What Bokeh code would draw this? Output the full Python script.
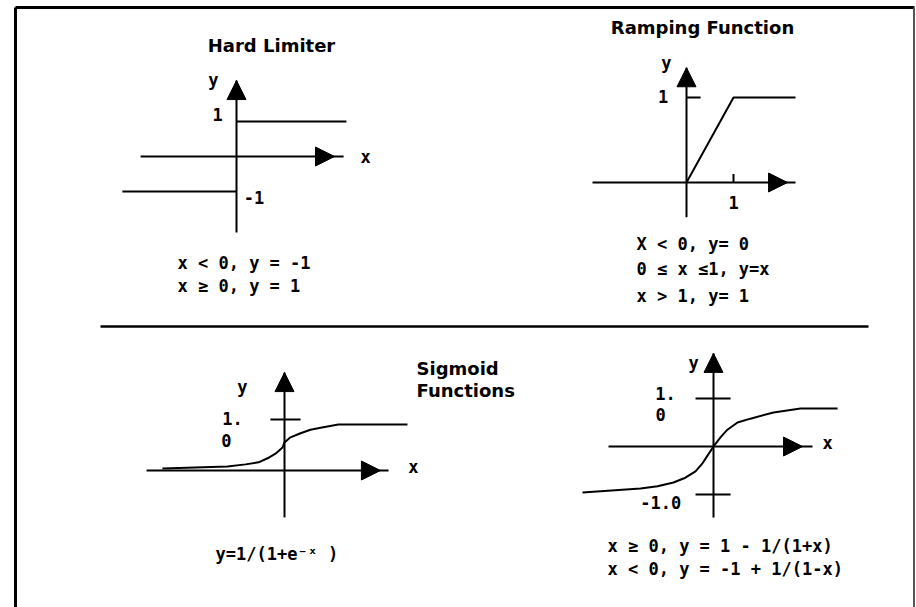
from bokeh.plotting import figure
from bokeh.models import Range1d, Arrow, NormalHead
from bokeh.core.properties import value
from bokeh.embed import file_html
from bokeh.resources import INLINE

# ---------------- data (math units of each small sketch) ----------------
# Hard limiter
hl_neg_x = [-3.26, 0.0]
hl_neg_y = [-1.0, -1.0]
hl_pos_x = [0.0, 3.14]
hl_pos_y = [1.0, 1.0]

# Ramping function
ramp_x = [0.0, 1.0, 2.32]
ramp_y = [0.0, 1.0, 1.0]

# Sigmoid y = 1/(1+e^-x)
sig_x = [-5.55, -2.59, -1.77, -1.18, -0.77, -0.41, -0.09, 0.0, 0.27, 0.73, 1.18, 1.64, 2.45, 5.59]
sig_y = [0.04, 0.08, 0.12, 0.16, 0.24, 0.33, 0.45, 0.55, 0.65, 0.73, 0.80, 0.84, 0.90, 0.90]

# Odd sigmoid y = ±(1 - 1/(1+|x|))
rat_x = [-5.46, -3.04, -2.33, -1.67, -1.17, -0.75, -0.46, -0.25, 0.0, 0.29, 0.58, 1.0, 1.54, 2.5, 3.63, 5.17]
rat_y = [-0.96, -0.875, -0.83, -0.75, -0.65, -0.52, -0.35, -0.19, 0.0, 0.19, 0.35, 0.5, 0.58, 0.71, 0.79, 0.79]

# Texts
titles = ["Hard Limiter", "Ramping Function", "Sigmoid", "Functions"]
hl_rules = ["x < 0, y = -1", "x \u2265 0, y = 1"]
ramp_rules = ["X < 0, y= 0", "0 \u2264  x \u22641, y=x", "x > 1, y= 1"]
sig_rule = ["y=1/(1+e\u207b\u02e3 )"]
rat_rules = ["x \u2265 0,  y = 1 - 1/(1+x)", "x < 0,  y = -1 + 1/(1-x)"]

# ---------------- layout ----------------
W, H = 916, 607
X0, Y0 = 0, 0  # main range is in page pixels

TFONT = value("DejaVu Sans")
MFONT = value("DejaVu Sans Mono")

p = figure(width=W, height=H, x_range=Range1d(X0, X0 + W), y_range=Range1d(Y0 + H, Y0),
           output_backend="svg", toolbar_location=None, min_border=0,
           x_axis_location=None, y_axis_location=None, outline_line_color=None)
p.grid.visible = False
p.background_fill_color = "white"

# panel: name -> (origin px x, origin px y, px per unit x, px per unit y)
panels = {
    "hl": (236, 156, 35, 35),
    "ramp": (686, 182, 47, 85),
    "sig": (284, 470, 22, 51),
    "rat": (713, 446, 24, 48),
}
xr, yr = {}, {}
for name, (ox, oy, sx, sy) in panels.items():
    xr[name] = Range1d((X0 - ox) / sx, (X0 + W - ox) / sx)
    yr[name] = Range1d((oy - (Y0 + H)) / sy, (oy - Y0) / sy)
p.extra_x_ranges = xr
p.extra_y_ranges = yr

LW = 2


def axes(name, xmin, xmax, ymin, ymax, xtip):
    kw = dict(x_range_name=name, y_range_name=name)
    p.line([xmin, xmax], [0, 0], line_color="black", line_width=LW, **kw)
    p.line([0, 0], [ymin, ymax], line_color="black", line_width=LW, **kw)
    p.add_layout(Arrow(end=NormalHead(size=19, fill_color="black", line_color="black", line_width=1),
                       x_start=0, y_start=ymax - 0.5, x_end=0, y_end=ymax,
                       line_color=None, **kw))
    p.add_layout(Arrow(end=NormalHead(size=19, fill_color="black", line_color="black", line_width=1),
                       x_start=xtip - 0.5, y_start=0, x_end=xtip, y_end=0,
                       line_color=None, **kw))


def label(name, x, y, t, align="center"):
    p.text([x], [y], text=[t], x_range_name=name, y_range_name=name,
           text_font=MFONT, text_font_style="bold", text_font_size="17px",
           text_align=align, text_baseline="middle", text_color="black")


# frame border and separator
p.line([15, 15], [7, H], line_color="black", line_width=3)
p.line([15, 914], [7, 7], line_color="black", line_width=3)
p.line([913.5, 913.5], [7, H], line_color="#555555", line_width=2)
p.line([100, 868], [326, 326], line_color="black", line_width=2.5)

# ---- Hard limiter ----
axes("hl", -2.74, 3.06, -2.17, 2.17, 2.8)
p.line(hl_neg_x, hl_neg_y, line_color="black", line_width=LW, x_range_name="hl", y_range_name="hl")
p.line(hl_pos_x, hl_pos_y, line_color="black", line_width=LW, x_range_name="hl", y_range_name="hl")
label("hl", -0.66, 2.2, "y")
label("hl", -0.54, 1.2, "1")
label("hl", 0.5, -1.17, "-1")
label("hl", 3.69, 0.0, "x")

# ---- Ramping ----
axes("ramp", -2.0, 2.32, -0.41, 1.35, 2.15)
p.line(ramp_x, ramp_y, line_color="black", line_width=LW, x_range_name="ramp", y_range_name="ramp")
p.line([0, 0.3], [1, 1], line_color="black", line_width=LW, x_range_name="ramp", y_range_name="ramp")
p.line([1, 1], [0, 0.1], line_color="black", line_width=LW, x_range_name="ramp", y_range_name="ramp")
label("ramp", -0.43, 1.41, "y")
label("ramp", -0.5, 1.01, "1")
label("ramp", 1.0, -0.235, "1")

# ---- Sigmoid ----
axes("sig", -6.27, 4.73, -0.92, 1.92, 4.36)
p.line(sig_x, sig_y, line_color="black", line_width=LW, x_range_name="sig", y_range_name="sig")
p.line([-0.64, 0.73], [1, 1], line_color="black", line_width=LW, x_range_name="sig", y_range_name="sig")
label("sig", -1.91, 1.63, "y")
label("sig", -2.36, 1.02, "1.")
label("sig", -2.64, 0.59, "0")
label("sig", 5.86, 0.06, "x")

# ---- Odd sigmoid ----
axes("rat", -4.375, 4.125, -1.48, 1.94, 3.71)
p.line(rat_x, rat_y, line_color="black", line_width=LW, x_range_name="rat", y_range_name="rat")
p.line([-0.75, 0.71], [1, 1], line_color="black", line_width=LW, x_range_name="rat", y_range_name="rat")
p.line([-0.75, 0.71], [-1, -1], line_color="black", line_width=LW, x_range_name="rat", y_range_name="rat")
label("rat", -0.83, 1.75, "y")
label("rat", -2.0, 1.10, "1.")
label("rat", -2.2, 0.67, "0")
label("rat", -2.2, -1.17, "-1.0")
label("rat", 4.75, 0.08, "x")

# ---- titles and formulas (page pixel positions) ----
def ptext(xs, ys, texts, align, font=MFONT, size="17px"):
    p.text(xs, ys, text=texts, text_font=font, text_font_style="bold", text_font_size=size,
           text_align=align, text_baseline="middle", text_color="black")

ptext([271, 702], [45, 27], titles[:2], "center", TFONT, "18px")
ptext([416, 416], [368, 390], titles[2:], "left", TFONT, "18px")
ptext([177, 177], [262, 285], hl_rules, "left")
ptext([636, 636, 636], [243, 268, 295], ramp_rules, "left")
ptext([215], [553], sig_rule, "left")
ptext([607, 607], [545, 568], rat_rules, "left")

open("out.html", "w").write(file_html(p, INLINE))
